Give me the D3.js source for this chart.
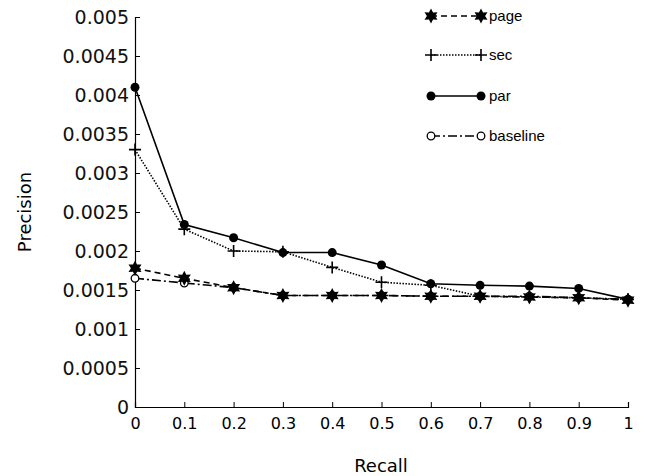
<!DOCTYPE html>
<html>
<head>
<meta charset="utf-8">
<script src="https://cdn.jsdelivr.net/npm/d3@7"></script>
<style>
  body { margin: 0; background: #fff; }
  svg { display: block; }
</style>
</head>
<body>
<div id="chart"></div>
<script>
// data
var recall = [0, 0.1, 0.2, 0.3, 0.4, 0.5, 0.6, 0.7, 0.8, 0.9, 1];
var page = [0.00178, 0.00165, 0.00153, 0.00143, 0.00143, 0.00143, 0.00142, 0.00142, 0.00141, 0.0014, 0.00137];
var sec = [0.0033, 0.00228, 0.002, 0.00199, 0.00179, 0.0016, 0.00156, 0.00142, 0.00141, 0.0014, 0.00138];
var par = [0.0041, 0.00234, 0.00217, 0.00198, 0.00198, 0.00182, 0.00158, 0.00156, 0.00155, 0.00152, 0.00138];
var baseline = [0.00165, 0.00159, 0.00153, 0.00143, 0.00143, 0.00143, 0.00142, 0.00142, 0.00142, 0.0014, 0.00138];
var xTicks = [0, 0.1, 0.2, 0.3, 0.4, 0.5, 0.6, 0.7, 0.8, 0.9, 1];
var yTicks = [0, 0.0005, 0.001, 0.0015, 0.002, 0.0025, 0.003, 0.0035, 0.004, 0.0045, 0.005];
var seriesNames = ["page", "sec", "par", "baseline"];

var width = 645, height = 476;
var svg = d3.select('#chart').append('svg')
  .attr("width", width)
  .attr("height", height);

var x = d3.scaleLinear().domain([0, 1]).range([135, 628]);
var y = d3.scaleLinear().domain([0, 0.005]).range([407, 17]);

// six pointed star marker
var star6 = {
  draw: function(ctx, size) {
    var r = Math.sqrt(size) * 0.75, ri = r * 0.55;
    for (var i = 0; i < 12; i++) {
      var a = Math.PI / 6 * i - Math.PI / 2;
      var rr = i % 2 ? ri : r;
      if (i == 0) ctx.moveTo(rr * Math.cos(a), rr * Math.sin(a));
      else ctx.lineTo(rr * Math.cos(a), rr * Math.sin(a));
    }
    ctx.closePath();
  }
};

var series = [
  {name: "page", values: page, dash: "6,4", marker: "star"},
  {name: "sec", values: sec, dash: "1.5,1.5", marker: "plus"},
  {name: "par", values: par, dash: null, marker: "dot"},
  {name: "baseline", values: baseline, dash: "9,3,2,3", marker: "circle"}
];

function drawMarker(g, type, cx, cy) {
  if (type == "star") {
    g.append("path").attr("d", d3.symbol().type(star6).size(100)())
      .attr("transform", "translate(" + cx + "," + cy + ")").attr("fill", "#000");
  } else if (type == "plus") {
    g.append("path").attr("d", "M" + (cx - 6) + "," + cy + "H" + (cx + 6) + "M" + cx + "," + (cy - 6) + "V" + (cy + 6))
      .attr("stroke", "#000").attr("stroke-width", 1.6).attr("fill", "none");
  } else if (type == "dot") {
    g.append("circle").attr("cx", cx).attr("cy", cy).attr("r", 4.5).attr("fill", "#000");
  } else {
    g.append("circle").attr("cx", cx).attr("cy", cy).attr("r", 3.8)
      .attr("fill", "#fff").attr("stroke", "#000").attr("stroke-width", 1.3);
  }
}

// axes
var xAxis = d3.axisBottom(x).tickValues(xTicks).tickSize(-5).tickPadding(4)
  .tickFormat(function(d){ return d == 0 || d == 1 ? d3.format("d")(d) : d3.format(".1f")(d); });
var gx = svg.append("g").attr("transform", "translate(0,407)").call(xAxis);
gx.select(".domain").attr("stroke-width", 1.2);
gx.selectAll(".tick line").attr("stroke-width", 1);
gx.selectAll("text").attr("font-family", "DejaVu Sans").attr("font-size", "16px").attr("fill", "#000").attr("dy", "1.1em");

var yAxis = d3.axisLeft(y).tickValues(yTicks).tickSize(-5).tickPadding(6)
  .tickFormat(function(d){ return d == 0 ? "0" : String(+d.toFixed(4)); });
var gy = svg.append("g").attr("transform", "translate(135,0)").call(yAxis);
gy.select(".domain").attr("stroke-width", 1.2);
gy.selectAll("text").attr("font-family", "DejaVu Sans").attr("font-size", "19px").attr("fill", "#111");

svg.append("text").text("Recall")
  .attr("x", 381).attr("y", 472)
  .attr("text-anchor", "middle")
  .attr("font-family", "DejaVu Sans").attr("font-size", "18px");

svg.append("text").text("Precision")
  .attr("transform", "translate(31,212) rotate(-90)")
  .attr("text-anchor", "middle")
  .attr("font-family", "DejaVu Sans").attr("font-size", "18px");

// lines, drawn so that baseline sits underneath and page on top
var line = d3.line()
  .x(function(d, i){ return x(recall[i]); })
  .y(function(d){ return y(d); });

series.slice().reverse().forEach(function(s) {
  svg.append("path").datum(s.values)
    .attr("d", line)
    .attr("fill", "none")
    .attr("stroke", "#000")
    .attr("stroke-width", 1.6)
    .attr("stroke-dasharray", s.dash);
  var g = svg.append("g");
  s.values.forEach(function(v, i) { drawMarker(g, s.marker, x(recall[i]), y(v)); });
});

// legend
var legendY = [16, 55, 96, 136];
series.forEach(function(s, i) {
  var g = svg.append("g");
  g.append("line")
    .attr("x1", 431).attr("x2", 481)
    .attr("y1", legendY[i]).attr("y2", legendY[i])
    .attr("stroke", "#000").attr("stroke-width", 1.6)
    .attr("stroke-dasharray", s.dash);
  drawMarker(g, s.marker, 431, legendY[i]);
  drawMarker(g, s.marker, 481, legendY[i]);
  g.append("text").text(seriesNames[i])
    .attr("x", 489).attr("y", legendY[i])
    .attr("dy", "0.35em")
    .attr("font-family", "Liberation Sans").attr("font-size", "15px");
});
</script>
</body>
</html>
